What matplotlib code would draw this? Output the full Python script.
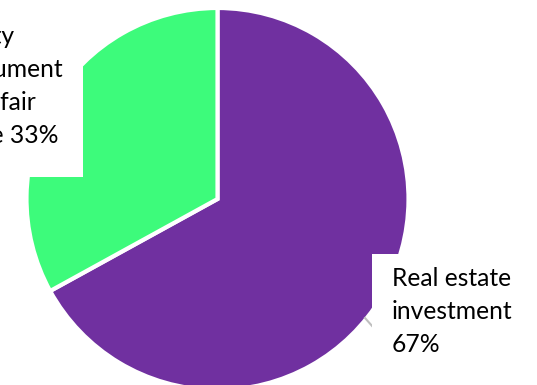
import matplotlib
matplotlib.use("Agg")
import matplotlib.pyplot as plt
from matplotlib.patches import Rectangle

# asset split
categories = ["Real estate\ninvestment", "Equity\ninstrument\nwith fair\nvalue"]
shares = [67, 33]
colors = ["#7030A0", "#3DFB7B"]

W, H = 537, 385
fig = plt.figure(figsize=(W / 100, H / 100), dpi=100)
ax = fig.add_axes([0, 0, 1, 1])

# pie in pixel space, y measured from the bottom
cx, cy, r = 217.5, H - 199, 191
wedges, _ = ax.pie(shares, colors=colors, startangle=90, counterclock=False,
                   center=(cx, cy), radius=r, frame=True,
                   wedgeprops=dict(edgecolor="white", linewidth=3))
ax.set_xlim(0, W)
ax.set_ylim(0, H)
ax.set_aspect("equal")
ax.axis("off")

font = dict(family="Lato", fontsize=17.7, color="black", linespacing=1.52)

# leader line for the right label (mostly behind its box)
ax.plot([365, 373], [H - 318, H - 327], color="#BFBFBF", lw=1.5, zorder=3)

# label backgrounds
ax.add_patch(Rectangle((-10, H - 177), 93, 200, facecolor="white", edgecolor="none", zorder=4))
ax.add_patch(Rectangle((372, -10), 200, H - 254 + 10, facecolor="white", edgecolor="none", zorder=4))

# va="baseline" pins the last line's baseline
ax.text(392, H - 352, f"{categories[0]}\n{shares[0]}%", ha="left", va="baseline",
        zorder=5, **font)
ax.text(-54, H - 143, f"{categories[1]} {shares[1]}%", ha="left", va="baseline",
        zorder=5, **font)

fig.savefig("out.png", dpi=100)
